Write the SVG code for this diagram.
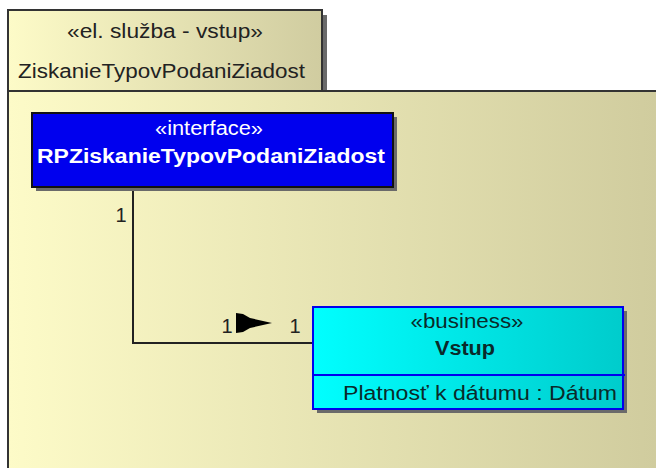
<svg xmlns="http://www.w3.org/2000/svg" width="656" height="468" viewBox="0 0 656 468">
<defs>
<linearGradient id="pkgBody" x1="8" y1="0" x2="656" y2="0" gradientUnits="userSpaceOnUse">
<stop offset="0" stop-color="#FDFBC8"/>
<stop offset="1" stop-color="#D0CC9E"/>
</linearGradient>
<linearGradient id="pkgTab" x1="8" y1="0" x2="322" y2="0" gradientUnits="userSpaceOnUse">
<stop offset="0" stop-color="#FDFBC8"/>
<stop offset="1" stop-color="#D0CCA0"/>
</linearGradient>
<linearGradient id="cyanGrad" x1="0" y1="0" x2="1" y2="0">
<stop offset="0" stop-color="#00FFFF"/>
<stop offset="1" stop-color="#00CCCC"/>
</linearGradient>
<style>
text{font-family:"Liberation Sans",Arial,sans-serif;font-size:20px;}
.bold{font-weight:bold;}
.shadow{fill:#6a6a6a;}
.pkg{stroke:#333;stroke-width:2;}
.wire{fill:none;stroke:#222;stroke-width:2;}
.lbl{fill:#222;}
</style>
</defs>

<g id="package">
<rect class="shadow" x="322" y="15" width="5" height="76"/>
<rect x="8" y="91" width="660" height="390" fill="url(#pkgBody)" class="pkg"/>
<rect x="8" y="10" width="314" height="81" fill="url(#pkgTab)" class="pkg"/>
<text x="165" y="38" text-anchor="middle" textLength="196" lengthAdjust="spacingAndGlyphs" fill="#222">«el. služba - vstup»</text>
<text x="161.5" y="78" text-anchor="middle" textLength="287" lengthAdjust="spacingAndGlyphs" fill="#222">ZiskanieTypovPodaniZiadost</text>
</g>

<g id="connectors">
<polyline class="wire" points="133,187 133,343 313,343"/>
<polygon points="236,313 243,314 250,318 272,323 250,328 243,332 236,333" fill="#000"/>
<text class="lbl" x="121" y="222" text-anchor="middle">1</text>
<text class="lbl" x="227" y="333" text-anchor="middle">1</text>
<text class="lbl" x="295" y="333" text-anchor="middle">1</text>
</g>

<g id="interface">
<rect class="shadow" x="36" y="117" width="361" height="74"/>
<rect x="32" y="113" width="361" height="74" fill="#0000EE" stroke="#111" stroke-width="2"/>
<text x="209" y="135" text-anchor="middle" textLength="108" lengthAdjust="spacingAndGlyphs" fill="#fff">«interface»</text>
<text class="bold" x="211" y="163" text-anchor="middle" textLength="348" lengthAdjust="spacingAndGlyphs" fill="#fff">RPZiskanieTypovPodaniZiadost</text>
</g>

<g id="vstup">
<rect class="shadow" x="317" y="311" width="310" height="102"/>
<rect x="313" y="307" width="310" height="102" fill="url(#cyanGrad)" stroke="#0000EE" stroke-width="2"/>
<line x1="313" y1="375" x2="625" y2="375" stroke="#0000EE" stroke-width="2"/>
<text x="467" y="328" text-anchor="middle" textLength="113" lengthAdjust="spacingAndGlyphs" fill="#0a2a2a">«business»</text>
<text class="bold" x="465" y="355" text-anchor="middle" textLength="60" lengthAdjust="spacingAndGlyphs" fill="#0a2a2a">Vstup</text>
<text x="343" y="400" textLength="274" lengthAdjust="spacingAndGlyphs" fill="#0a2a2a">Platnosť k dátumu : Dátum</text>
</g>
</svg>
